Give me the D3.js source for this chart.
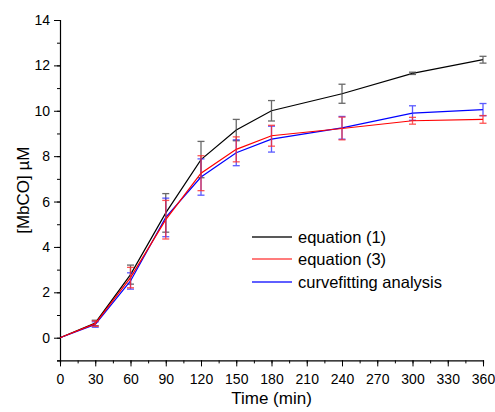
<!DOCTYPE html>
<html>
<head>
<meta charset="utf-8">
<script src="https://cdn.jsdelivr.net/npm/d3@7"></script>
<style>
  body { margin: 0; background: #fff; }
  svg { display: block; font-family: "Liberation Sans", Arial, sans-serif; }
</style>
</head>
<body>
<svg id="chart"></svg>
<script>
// ===== data =====
const times = [0, 30, 60, 90, 120, 150, 180, 240, 300, 360];

const eq1 = [0, 0.65, 2.78, 5.5, 7.85, 9.15, 10.0, 10.75, 11.65, 12.25];
const eq1Err = [0, 0.12, 0.42, 0.85, 0.8, 0.47, 0.45, 0.42, 0.05, 0.15];

const eq3 = [0, 0.62, 2.65, 5.2, 7.25, 8.3, 8.9, 9.22, 9.56, 9.62];
const eq3Err = [0, 0.12, 0.45, 0.85, 0.77, 0.55, 0.46, 0.5, 0.15, 0.17];

const curveFit = [0, 0.58, 2.5, 5.3, 7.08, 8.15, 8.75, 9.25, 9.9, 10.05];
const curveFitErr = [0, 0.12, 0.36, 0.85, 0.8, 0.57, 0.57, 0.5, 0.32, 0.27];

const xTicks = d3.range(0, 361, 30);
const yTicks = d3.range(0, 15, 2);

const series = [
  { name: "equation (1)", values: eq1, err: eq1Err, color: "#000000", errColor: "#444" },
  { name: "curvefitting analysis", values: curveFit, err: curveFitErr, color: "#0000ff", errColor: "#3333ff" },
  { name: "equation (3)", values: eq3, err: eq3Err, color: "#ff0000", errColor: "#ff2a2a" }
];
const legendOrder = ["equation (1)", "equation (3)", "curvefitting analysis"];
const legendColors = { "equation (1)": "#222222", "equation (3)": "#ff5050", "curvefitting analysis": "#2a2aff" };

// ===== layout =====
const width = 495;
const height = 412;

const svg = d3.select("#chart").attr("width", width).attr("height", height);

const x = d3.scaleLinear().domain([0, 360]).range([60, 483]);
const y = d3.scaleLinear().domain([-1, 14]).range([360.4, 20]);

// axes (minor ticks first, then labelled major ticks)
const xAxis = svg.append("g").attr("transform", `translate(0,${y(-1)})`);
xAxis.call(d3.axisBottom(x).tickValues(d3.range(0, 361, 15)).tickSize(3).tickFormat(""));
xAxis.call(g => g.append("g").call(d3.axisBottom(x).tickValues(xTicks).tickSize(6).tickPadding(4)));

const yAxis = svg.append("g").attr("transform", `translate(${x(0)},0)`);
yAxis.call(d3.axisLeft(y).tickValues(d3.range(-1, 14.1, 1)).tickSize(3).tickFormat(""));
yAxis.call(g => g.append("g").call(d3.axisLeft(y).tickValues(yTicks).tickSize(6).tickPadding(4)));

svg.selectAll(".domain").attr("stroke", "#000").attr("stroke-width", 1.2);
svg.selectAll(".tick line").attr("stroke", "#000").attr("stroke-width", 1);
svg.selectAll(".tick text").attr("font-size", 14).attr("fill", "#000")
  .attr("font-family", "Liberation Sans, Arial, sans-serif");
xAxis.selectAll("g > g .domain").remove();
yAxis.selectAll("g > g .domain").remove();
xAxis.selectAll(".tick text").attr("dy", "0.95em");

// axis titles
svg.append("text")
  .attr("x", (x(0) + x(360)) / 2)
  .attr("y", 404)
  .attr("text-anchor", "middle")
  .attr("font-size", 17)
  .text("Time (min)");

svg.append("text")
  .attr("transform", `translate(29,${(y(14) + y(-1)) / 2}) rotate(-90)`)
  .attr("text-anchor", "middle")
  .attr("font-size", 17)
  .text("[MbCO] µM");

// ===== series =====
const line = d3.line().x((d, i) => x(times[i])).y(d => y(d));

series.forEach(s => {
  const g = svg.append("g");

  g.append("path")
    .datum(s.values)
    .attr("fill", "none")
    .attr("stroke", s.color)
    .attr("stroke-width", 1.2)
    .attr("d", line);

  const bars = s.values.map((v, i) => ({ t: times[i], v, e: s.err[i] })).filter(d => d.e > 0);

  const eb = g.selectAll("g.err").data(bars).join("g").attr("class", "err")
    .attr("stroke", s.errColor).attr("stroke-width", 1.3).attr("opacity", 0.8);

  eb.append("line")
    .attr("x1", d => x(d.t)).attr("x2", d => x(d.t))
    .attr("y1", d => y(d.v - d.e)).attr("y2", d => y(d.v + d.e));
  eb.append("line")
    .attr("x1", d => x(d.t) - 3.5).attr("x2", d => x(d.t) + 3.5)
    .attr("y1", d => y(d.v + d.e)).attr("y2", d => y(d.v + d.e));
  eb.append("line")
    .attr("x1", d => x(d.t) - 3.5).attr("x2", d => x(d.t) + 3.5)
    .attr("y1", d => y(d.v - d.e)).attr("y2", d => y(d.v - d.e));
});

// ===== legend =====
const legendRows = [237, 259, 282];
const legend = svg.append("g").attr("transform", "translate(252,0)");
legendOrder.forEach((name, i) => {
  const row = legend.append("g").attr("transform", `translate(0,${legendRows[i]})`);
  row.append("line")
    .attr("x1", 0).attr("x2", 40).attr("y1", 0).attr("y2", 0)
    .attr("stroke", legendColors[name]).attr("stroke-width", 1.4);
  row.append("text")
    .attr("x", 46).attr("y", 0).attr("dy", "0.35em")
    .attr("font-size", 16.5)
    .text(name);
});
</script>
</body>
</html>
